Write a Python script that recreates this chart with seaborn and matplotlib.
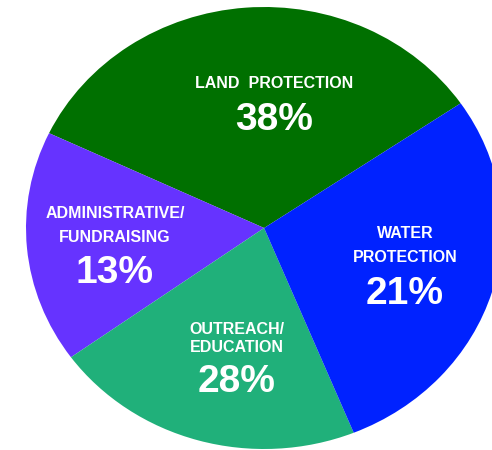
import matplotlib
matplotlib.use("Agg")
import matplotlib.pyplot as plt
import seaborn as sns

# Data (slice order: counter-clockwise from the green/blue boundary)
categories = ["LAND  PROTECTION", "ADMINISTRATIVE/\nFUNDRAISING", "OUTREACH/\nEDUCATION", "WATER\nPROTECTION"]
pct_labels = ["38%", "13%", "28%", "21%"]
# slice sizes as they are drawn in the picture (they do not follow the printed %)
wedge_shares = [33.4, 17.0, 21.2, 28.4]
colors = ["#007000", "#6633FF", "#20B07A", "#0022FF"]

W, H = 492, 450

sns.set_theme(style="white")
plt.rcParams["font.family"] = ["Liberation Sans", "DejaVu Sans"]

fig = plt.figure(figsize=(W / 100, H / 100), dpi=100)
ax = fig.add_axes([0, 0, 1, 1])

ax.pie(wedge_shares, colors=colors, startangle=34.35, counterclock=True,
       radius=1, center=(0, 0), wedgeprops=dict(linewidth=0))

# the pie in the reference is slightly elliptical: rx ~238 px, ry ~221 px
cx, cy, rx, ry = 264.1, 228.0, 238.1, 221.0
ax.set_aspect("auto")
ax.set_xlim(-cx / rx, (W - cx) / rx)
ax.set_ylim(-(H - cy) / ry, cy / ry)
ax.axis("off")

# label layout in pixels: x centre, y of each name line, y of percentage
layout = [
    (274, [83], 120),
    (115, [214, 238], 273),
    (237, [329, 348], 382),
    (405, [234, 258], 294),
]

for name, pct, (x, ys, yp) in zip(categories, pct_labels, layout):
    for line, y in zip(name.split("\n"), ys):
        fig.text(x / W, 1 - y / H, line, color="white", fontsize=11.5,
                 fontweight="bold", ha="center", va="center")
    fig.text(x / W, 1 - yp / H, pct, color="white", fontsize=28,
             fontweight="bold", ha="center", va="center")

plt.savefig("out.png", dpi=100)
plt.close()
